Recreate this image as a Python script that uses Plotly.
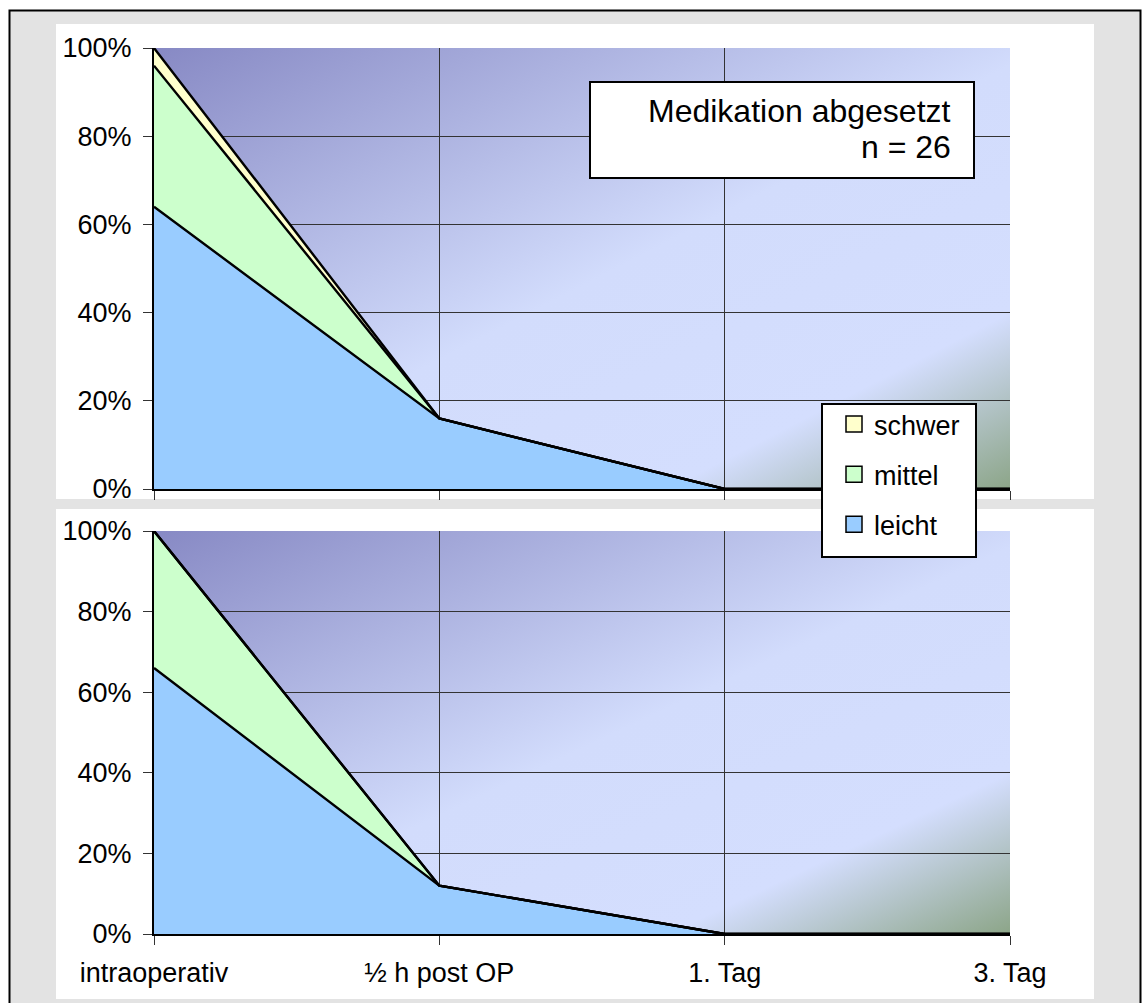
import base64
import plotly.graph_objects as go

# ---------------- data ----------------
categories = ["intraoperativ", "½ h post OP", "1. Tag", "3. Tag"]
series_names = ["leicht", "mittel", "schwer"]
top_leicht = [0.64, 0.16, 0.0, 0.0]
top_mittel = [0.32, 0.0, 0.0, 0.0]
top_schwer = [0.04, 0.0, 0.0, 0.0]
bot_leicht = [0.66, 0.12, 0.0, 0.0]
bot_mittel = [0.34, 0.0, 0.0, 0.0]
bot_schwer = [0.0, 0.0, 0.0, 0.0]
y_ticks = [0, 0.2, 0.4, 0.6, 0.8, 1.0]
note_lines = ["Medikation abgesetzt", "n = 26"]

# ---------------- styling / layout ----------------
W, H = 1142, 1003
FONT = "Liberation Sans, Arial, sans-serif"
colors = {"leicht": "#99CCFF", "mittel": "#CCFFCC", "schwer": "#FFFFCC"}

PLOT_X0, PLOT_X1 = 154, 1010
TOP_Y0, TOP_Y1 = 48, 489
BOT_Y0, BOT_Y1 = 531, 934


def px(x):
    return x / W


def py(y):
    return 1 - y / H


svg = f"""<svg xmlns='http://www.w3.org/2000/svg' width='{W}' height='{H}' viewBox='0 0 {W} {H}' preserveAspectRatio='none'>
<defs><linearGradient id='g' x1='0' y1='0' x2='1' y2='1'>
<stop offset='0' stop-color='#8789C4'/>
<stop offset='0.52' stop-color='#D2DCFC'/>
<stop offset='0.80' stop-color='#D4DEFE'/>
<stop offset='1' stop-color='#8CA588'/>
</linearGradient></defs>
<rect x='0' y='0' width='{W}' height='{H}' fill='white'/>
<rect x='9.5' y='10.5' width='1131' height='1100' fill='#E3E3E3' stroke='black' stroke-width='2'/>
<rect x='56' y='24' width='1038' height='475' fill='white'/>
<rect x='56' y='509' width='1038' height='490' fill='white'/>
<rect x='{PLOT_X0}' y='{TOP_Y0}' width='{PLOT_X1-PLOT_X0}' height='{TOP_Y1-TOP_Y0}' fill='url(#g)'/>
<rect x='{PLOT_X0}' y='{BOT_Y0}' width='{PLOT_X1-PLOT_X0}' height='{BOT_Y1-BOT_Y0}' fill='url(#g)'/>
</svg>"""
svg_uri = "data:image/svg+xml;base64," + base64.b64encode(svg.encode()).decode()

fig = go.Figure()

top_vals = {"leicht": top_leicht, "mittel": top_mittel, "schwer": top_schwer}
bot_vals = {"leicht": bot_leicht, "mittel": bot_mittel, "schwer": bot_schwer}

for name in series_names:
    fig.add_trace(go.Scatter(
        x=categories, y=top_vals[name], name=name, stackgroup="top",
        mode="lines", line=dict(color="black", width=2.4),
        fillcolor=colors[name], showlegend=False, xaxis="x", yaxis="y",
        hoverinfo="skip"))
for name in series_names:
    fig.add_trace(go.Scatter(
        x=categories, y=bot_vals[name], name=name, stackgroup="bot",
        mode="lines", line=dict(color="black", width=2.4),
        fillcolor=colors[name], showlegend=False, xaxis="x2", yaxis="y2",
        hoverinfo="skip"))

# legend entries (top to bottom: schwer, mittel, leicht)
for name in reversed(series_names):
    fig.add_trace(go.Scatter(
        x=[None], y=[None], name=name, mode="markers",
        marker=dict(symbol="square", size=16, color=colors[name],
                    line=dict(color="black", width=1.5)),
        legendgroup=name, showlegend=True, xaxis="x2", yaxis="y2"))

axis_common = dict(
    type="category", range=[0, 3], showgrid=True, gridcolor="#333333",
    gridwidth=1, ticks="outside", ticklen=9, tickwidth=1, tickcolor="#333333",
    showline=True, linecolor="black", linewidth=2, zeroline=False,
    tickfont=dict(family=FONT, size=27, color="black"),
    domain=[px(PLOT_X0), px(PLOT_X1)], fixedrange=True, automargin=False,
)
yaxis_common = dict(
    range=[0, 1], tickvals=y_ticks, tickformat=".0%", showgrid=True,
    gridcolor="#333333", gridwidth=1, ticks="outside", ticklen=9,
    tickwidth=1, tickcolor="#333333", showline=True, linecolor="black",
    linewidth=2, zeroline=False, ticklabelstandoff=6,
    tickfont=dict(family=FONT, size=27, color="black"), fixedrange=True,
    automargin=False,
)

NOTE_FS = 32
note_baselines = [122, 158]
annotations = [
    dict(text=t, xref="paper", yref="paper", x=px(953),
         y=py(b - 0.35 * NOTE_FS), xanchor="right", yanchor="middle",
         align="right", showarrow=False,
         font=dict(family=FONT, size=NOTE_FS, color="black"))
    for t, b in zip(note_lines, note_baselines)
]

fig.update_layout(
    template="none",
    width=W, height=H, autosize=False,
    margin=dict(l=0, r=0, t=0, b=0, pad=0, autoexpand=False),
    paper_bgcolor="white", plot_bgcolor="rgba(0,0,0,0)",
    xaxis=dict(axis_common, anchor="y", showticklabels=False),
    yaxis=dict(yaxis_common, anchor="x", domain=[py(TOP_Y1), py(TOP_Y0)]),
    xaxis2=dict(axis_common, anchor="y2", showticklabels=True,
                ticklabelstandoff=5),
    yaxis2=dict(yaxis_common, anchor="x2", domain=[py(BOT_Y1), py(BOT_Y0)]),
    images=[dict(source=svg_uri, xref="paper", yref="paper", x=0, y=1,
                 sizex=1, sizey=1, xanchor="left", yanchor="top",
                 sizing="stretch", layer="below")],
    shapes=[
        dict(type="rect", xref="paper", yref="paper",
             x0=px(590), x1=px(974), y0=py(82), y1=py(178),
             fillcolor="white", line=dict(color="black", width=2),
             layer="above"),
        dict(type="rect", xref="paper", yref="paper",
             x0=px(822), x1=px(976), y0=py(404), y1=py(557),
             fillcolor="white", line=dict(color="black", width=2),
             layer="above"),
    ],
    annotations=annotations,
    legend=dict(
        x=px(834), y=py(400), xanchor="left", yanchor="top",
        bgcolor="rgba(0,0,0,0)", borderwidth=0, tracegroupgap=12,
        traceorder="grouped",
        font=dict(family=FONT, size=27, color="black")),
    showlegend=True,
)

fig.write_html("out.html")
